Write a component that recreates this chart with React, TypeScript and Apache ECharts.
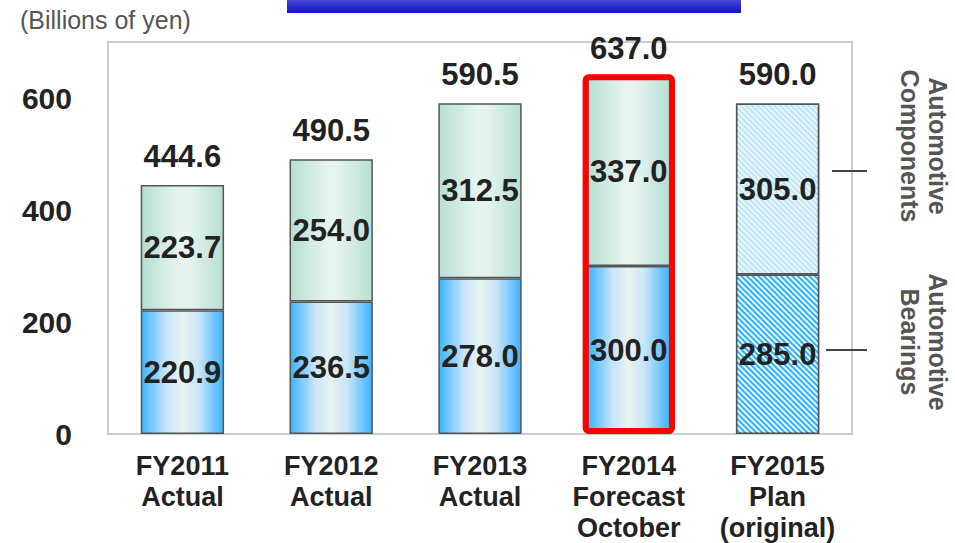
import React, { useEffect, useRef } from "react";
import * as echarts from "echarts";

const categories = [
  "FY2011\nActual",
  "FY2012\nActual",
  "FY2013\nActual",
  "FY2014\nForecast\nOctober",
  "FY2015\nPlan\n(original)",
];
const bearings = [220.9, 236.5, 278.0, 300.0, 285.0];
const components = [223.7, 254.0, 312.5, 337.0, 305.0];
const totals = [444.6, 490.5, 590.5, 637.0, 590.0];
const yTicks = [0, 200, 400, 600];
const highlightIndex = 3;
const planIndex = 4;

const FONT = "'Liberation Sans', Arial, Helvetica, sans-serif";

const blueGrad = new echarts.graphic.LinearGradient(0, 0, 1, 0, [
  { offset: 0, color: "#3cb4ff" },
  { offset: 0.3, color: "#c8e4f8" },
  { offset: 0.5, color: "#e8f4f0" },
  { offset: 0.7, color: "#c8e4f8" },
  { offset: 1, color: "#3cb4ff" },
]);
const greenGrad = new echarts.graphic.LinearGradient(0, 0, 1, 0, [
  { offset: 0, color: "#b6dfd3" },
  { offset: 0.45, color: "#e6f4f0" },
  { offset: 0.6, color: "#e4f3ef" },
  { offset: 1, color: "#b6dfd3" },
]);

export default function App() {
  const ref = useRef<HTMLDivElement>(null);
  useEffect(() => {
    if (!ref.current) return;
    const chart = echarts.init(ref.current, undefined, { renderer: "svg" });
    const barBorder = { borderColor: "#555", borderWidth: 1.5 };
    const valueLabel = {
      show: true,
      position: "inside",
      fontFamily: FONT,
      fontSize: 31,
      fontWeight: "bold",
      color: "#222",
      formatter: (p: any) => Number(p.value).toFixed(1),
    };
    const bearingsData = bearings.map((v, i) =>
      i === planIndex
        ? {
            value: v,
            itemStyle: {
              color: "#2cb2fb",
              decal: {
                symbol: "rect",
                symbolSize: 1,
                dashArrayX: [1, 0],
                dashArrayY: [2, 2],
                rotation: Math.PI / 4,
                color: "rgba(255,255,255,0.9)",
              },
            },
          }
        : v
    );
    const componentsData = components.map((v, i) =>
      i === planIndex
        ? {
            value: v,
            itemStyle: {
              color: "#bfe5f7",
              decal: {
                symbol: "rect",
                symbolSize: 1,
                dashArrayX: [1, 0],
                dashArrayY: [2, 2],
                rotation: Math.PI / 4,
                color: "rgba(240,250,252,0.85)",
              },
            },
          }
        : v
    );
    chart.setOption({
      animation: false,
      textStyle: { fontFamily: FONT },
      grid: {
        left: 108,
        right: 103,
        top: 42,
        bottom: 108,
        show: true,
        borderColor: "#cccccc",
        borderWidth: 2,
        backgroundColor: "#fff",
      },
      xAxis: {
        type: "category",
        data: categories,
        axisLine: { show: false },
        axisTick: { show: false },
        axisLabel: {
          margin: 16,
          fontFamily: FONT,
          fontSize: 27,
          lineHeight: 31,
          fontWeight: "bold",
          color: "#222",
          interval: 0,
        },
      },
      yAxis: {
        type: "value",
        min: 0,
        max: 700,
        interval: 200,
        splitLine: { show: false },
        axisLine: { show: false },
        axisTick: { show: false },
        axisLabel: {
          margin: 36,
          fontFamily: FONT,
          fontSize: 30,
          fontWeight: "bold",
          color: "#222",
          formatter: (v: number) => (yTicks.includes(v) ? String(v) : ""),
        },
      },
      series: [
        {
          name: "Automotive Bearings",
          type: "bar",
          stack: "total",
          barWidth: "56%",
          data: bearingsData,
          itemStyle: { color: blueGrad, ...barBorder },
          label: valueLabel,
        },
        {
          name: "Automotive Components",
          type: "bar",
          stack: "total",
          barWidth: "56%",
          data: componentsData,
          itemStyle: { color: greenGrad, ...barBorder },
          label: valueLabel,
        },
        {
          name: "Total",
          type: "line",
          data: totals,
          symbol: "circle",
          symbolSize: 1,
          itemStyle: { color: "rgba(0,0,0,0)" },
          lineStyle: { opacity: 0 },
          z: 6,
          label: {
            show: true,
            position: "top",
            distance: 13,
            fontFamily: FONT,
            fontSize: 31,
            fontWeight: "bold",
            color: "#222",
            formatter: (p: any) => Number(p.value).toFixed(1),
          },
        },
        {
          name: "Highlight",
          type: "custom",
          z: 10,
          data: [[highlightIndex, totals[highlightIndex]]],
          encode: { x: 0, y: 1 },
          renderItem: (params: any, api: any) => {
            const top = api.coord([api.value(0), api.value(1)]);
            const bottom = api.coord([api.value(0), 0]);
            const w = api.size([1, 0])[0] * 0.56 + 3;
            return {
              type: "rect",
              shape: {
                x: top[0] - w / 2,
                y: top[1],
                width: w,
                height: bottom[1] - top[1] - 3,
                r: 3,
              },
              style: { fill: "none", stroke: "#ff0000", lineWidth: 6 },
            };
          },
        },
      ],
      graphic: [
        {
          type: "rect",
          shape: { x: 287, y: 0, width: 454, height: 13 },
          style: {
            fill: new echarts.graphic.LinearGradient(0, 0, 0, 1, [
              { offset: 0, color: "#4848d4" },
              { offset: 1, color: "#1212c4" },
            ]),
          },
        },
        {
          type: "text",
          x: 20,
          y: 20,
          style: {
            text: "(Billions of yen)",
            font: `25px ${FONT}`,
            fill: "#555",
            textAlign: "left",
            textVerticalAlign: "middle",
          },
        },
        {
          type: "text",
          x: 924,
          y: 146,
          rotation: -Math.PI / 2,
          style: {
            text: "Automotive\nComponents",
            font: `bold 25px ${FONT}`,
            lineHeight: 28,
            fill: "#555",
            textAlign: "center",
            textVerticalAlign: "middle",
          },
        },
        {
          type: "text",
          x: 924,
          y: 342,
          rotation: -Math.PI / 2,
          style: {
            text: "Automotive\nBearings",
            font: `bold 25px ${FONT}`,
            lineHeight: 28,
            fill: "#555",
            textAlign: "center",
            textVerticalAlign: "middle",
          },
        },
        {
          type: "line",
          shape: { x1: 832, y1: 171, x2: 867, y2: 171 },
          style: { stroke: "#444", lineWidth: 2 },
        },
        {
          type: "line",
          shape: { x1: 826, y1: 350, x2: 867, y2: 350 },
          style: { stroke: "#444", lineWidth: 2 },
        },
      ],
    });
    return () => chart.dispose();
  }, []);
  return (
    <div
      ref={ref}
      style={{ position: "fixed", left: 0, top: 0, width: 955, height: 543, background: "#fff" }}
    />
  );
}
